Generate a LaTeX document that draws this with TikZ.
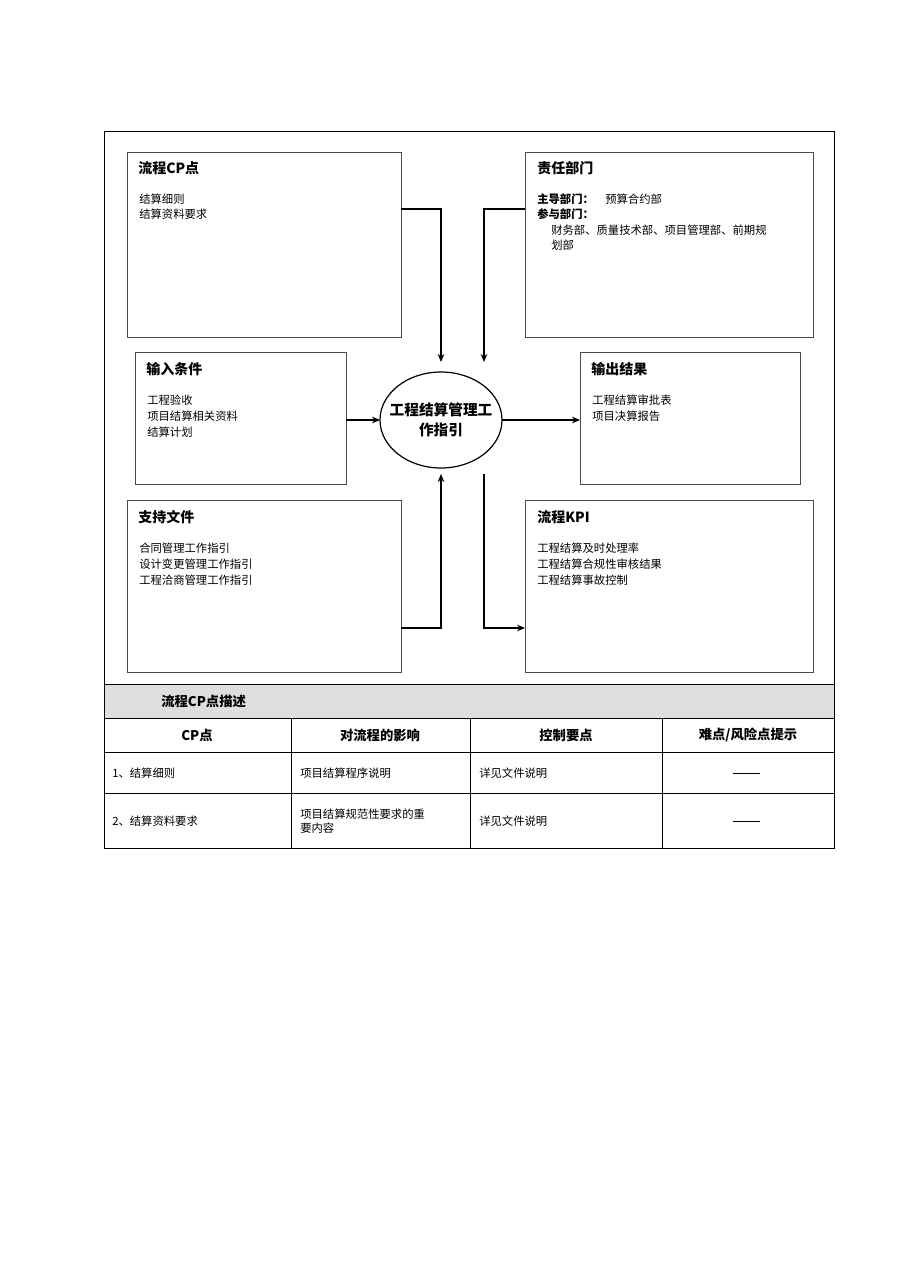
\documentclass[tikz,border=0pt]{standalone}
\usepackage{fontspec}
\setmainfont{Noto Sans CJK SC}
\usetikzlibrary{arrows.meta,positioning}
\begin{document}
\begin{tikzpicture}[x=0.75pt,y=-0.75pt,
    box/.style={draw=black!70,line width=0.6pt},
    ttl/.style={anchor=west,inner sep=0pt,font=\fontsize{10.5pt}{12pt}\selectfont\bfseries},
    txt/.style={anchor=west,inner sep=0pt,font=\fontsize{8.5pt}{10pt}\selectfont},
    hd/.style={inner sep=0pt,font=\fontsize{10pt}{12pt}\selectfont\bfseries},
    flow/.style={-{Stealth[length=6pt,width=5pt]},line width=0.8pt}]
  \useasboundingbox (0,0) rectangle (909,1286);
  % outer frame and table
  \fill[black!13] (104,684) rectangle (834,718);
  \draw[line width=0.6pt] (104,131) rectangle (834,848);
  \draw[line width=0.6pt] (104,684) -- (834,684) (104,718) -- (834,718)
    (104,752) -- (834,752) (104,793) -- (834,793);
  \foreach \cx in {291,470,662} \draw[line width=0.6pt] (\cx,718) -- (\cx,848);

  % boxes
  \draw[box] (127,152) rectangle (401,337);
  \draw[box] (525,152) rectangle (813,337);
  \draw[box] (135,352) rectangle (346,484);
  \draw[box] (580,352) rectangle (800,484);
  \draw[box] (127,500) rectangle (401,672);
  \draw[box] (525,500) rectangle (813,672);
  \node[ttl] (cpT) at (138,168) {流程CP点};
  \node[txt] (cp1) at (139,199) {结算细则};
  \node[txt] (cp2) at (139,214) {结算资料要求};
  \node[ttl] (depT) at (537,168) {责任部门};
  \node[txt] (dep1) at (537,199) {\textbf{主导部门：}\quad 预算合约部};
  \node[txt] (dep2) at (537,214) {\textbf{参与部门：}};
  \node[txt] (dep3) at (551,230) {财务部、质量技术部、项目管理部、前期规};
  \node[txt] (dep4) at (551,245) {划部};
  \node[ttl] (inT) at (146,369) {输入条件};
  \node[txt] (in1) at (147,400) {工程验收};
  \node[txt] (in2) at (147,416) {项目结算相关资料};
  \node[txt] (in3) at (147,432) {结算计划};
  \node[ttl] (outT) at (591,369) {输出结果};
  \node[txt] (out1) at (592,400) {工程结算审批表};
  \node[txt] (out2) at (592,416) {项目决算报告};
  \node[ttl] (docT) at (138,517) {支持文件};
  \node[txt] (doc1) at (139,548) {合同管理工作指引};
  \node[txt] (doc2) at (139,564) {设计变更管理工作指引};
  \node[txt] (doc3) at (139,580) {工程洽商管理工作指引};
  \node[ttl] (kpiT) at (537,517) {流程KPI};
  \node[txt] (kpi1) at (537,548) {工程结算及时处理率};
  \node[txt] (kpi2) at (537,564) {工程结算合规性审核结果};
  \node[txt] (kpi3) at (537,580) {工程结算事故控制};

  % centre
  \draw[line width=0.9pt] (441,420) ellipse [x radius=61, y radius=48];
  \node[hd,align=center,font=\fontsize{11pt}{15pt}\selectfont\bfseries] (core) at (441,420)
    {工程结算管理工\\作指引};

  % connectors
  \coordinate (cpR) at (401,209);  \coordinate (cpE) at (441,362);
  \coordinate (depL) at (525,209); \coordinate (depE) at (484,362);
  \coordinate (inR) at (346,420);  \coordinate (inE) at (380,420);
  \coordinate (outS) at (502,420); \coordinate (outL) at (580,420);
  \coordinate (docR) at (401,628); \coordinate (docE) at (441,474);
  \coordinate (kpiS) at (484,474); \coordinate (kpiL) at (525,628);
  \draw[flow] (cpR) -| (cpE);
  \draw[flow] (depL) -| (depE);
  \draw[flow] (inR) -- (inE);
  \draw[flow] (outS) -- (outL);
  \draw[flow] (docR) -| (docE);
  \draw[flow] (kpiS) |- (kpiL);

  % table text
  \node[hd,anchor=west] (tabT) at (161,701) {流程CP点描述};
  \node[hd] (h1) at (197,735) {CP点};
  \node[hd] (h2) at (380,735) {对流程的影响};
  \node[hd] (h3) at (566,735) {控制要点};
  \node[hd] (h4) at (748,735) {难点/风险点提示};
  \node[txt] (r1a) at (112,773) {1、结算细则};
  \node[txt] (r1b) at (300,773) {项目结算程序说明};
  \node[txt] (r1c) at (479,773) {详见文件说明};
  \node[txt] (r2a) at (112,821) {2、结算资料要求};
  \node[txt,align=left] (r2b) at (300,821) {项目结算规范性要求的重\\要内容};
  \node[txt] (r2c) at (479,821) {详见文件说明};
  \coordinate (d1a) at (733,773); \coordinate (d1b) at (760,773);
  \coordinate (d2a) at (733,821); \coordinate (d2b) at (760,821);
  \draw[line width=0.6pt] (d1a) -- (d1b) (d2a) -- (d2b);
\end{tikzpicture}
\end{document}
